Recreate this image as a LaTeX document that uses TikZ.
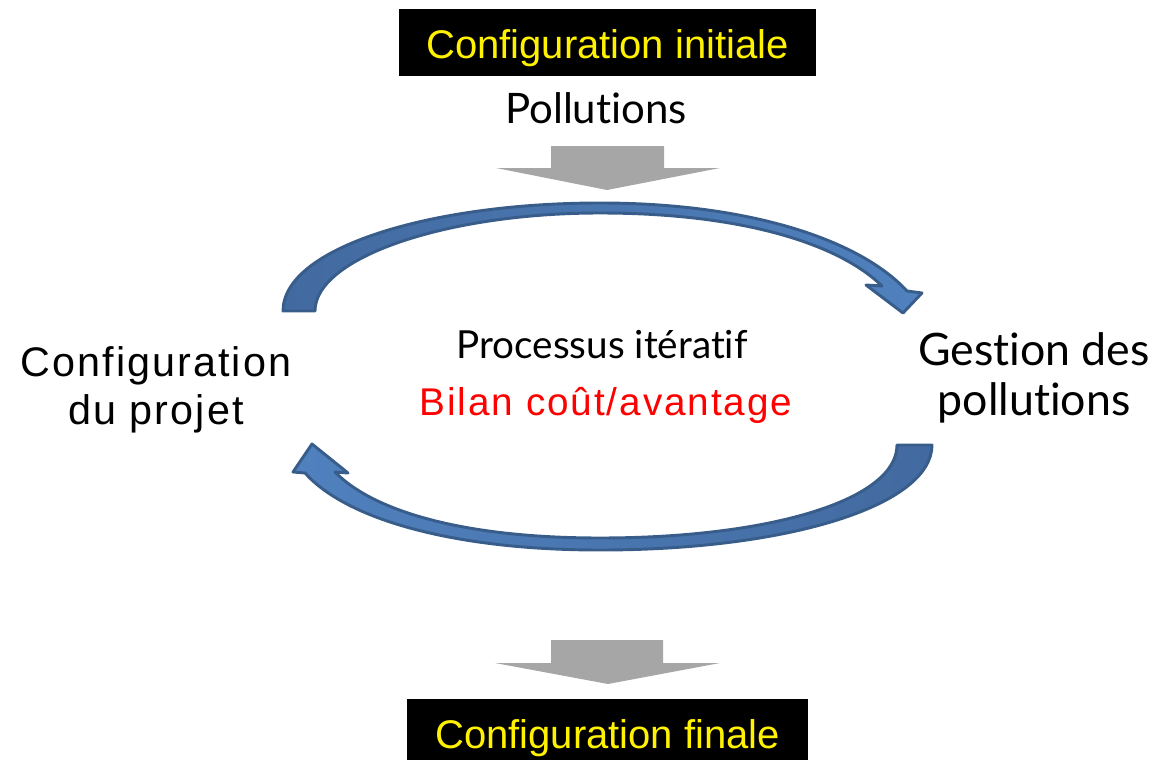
\documentclass[tikz,border=0pt]{standalone}
\usepackage{fontspec}
\setmainfont{Liberation Sans}
\newfontfamily\widefont[LetterSpace=5]{Liberation Sans}
\newfontfamily\lightfont[Ligatures={NoCommon,NoContextual}]{Lato}
\definecolor{loopblue}{RGB}{80,129,190}
\definecolor{loopdark}{RGB}{66,106,160}
\definecolor{loopedge}{RGB}{56,93,138}
\definecolor{passgray}{RGB}{166,166,166}
\tikzstyle{stage} = [fill=black, text=yellow, inner sep=0pt, text height=28pt, text depth=4pt, font=\fontsize{30}{36}\selectfont]
\tikzstyle{label} = [align=center, inner sep=0pt]
\tikzstyle{loop} = [draw=loopedge, line width=2.2pt, line join=round]
\tikzstyle{pass} = [fill=passgray]

\begin{document}
\begin{tikzpicture}[x=0.75pt, y=-0.75pt]
\useasboundingbox (0,0) rectangle (1161,760);

\node (init) [stage, minimum width=312.75pt, minimum height=50.25pt] at (607.5,42.5) {Configuration initiale};
\node (poll) [label, font=\lightfont\fontsize{31.5}{37}\selectfont] at (596,108) {Pollutions};
\node (projet) [label, font=\widefont\fontsize{31}{36}\selectfont] at (156,390) {Configuration\\du projet};
\node (gestion) [label, font=\lightfont\fontsize{33.5}{38}\selectfont] at (1034,378) {Gestion des\\pollutions};
\node (iter) [label, font=\lightfont\fontsize{29}{34}\selectfont] at (602,345) {Processus itératif};
\node (bilan) [label, text=red, font=\widefont\fontsize{29}{34}\selectfont] at (606,405) {Bilan coût/avantage};
\node (final) [stage, minimum width=300.75pt, minimum height=50.25pt] at (607.5,732.5) {Configuration finale};

% gray arrows in and out
\fill [pass] (551,146) -- (664,146) -- (664,168) -- (720,168) -- (607,190) -- (496,168) -- (551,168) -- cycle;
\fill [pass] (551,640) -- (663,640) -- (663,663) -- (720,663) -- (608,684) -- (495,663) -- (551,663) -- cycle;

% loop: projet -> gestion
\draw [loop, left color=loopdark, right color=loopblue] (283,311) .. controls (283,248) and (430,203) .. (600,203)
  .. controls (750,203) and (860,240) .. (907,291) -- (922,293) -- (903,313) -- (866,285) -- (882,286)
  .. controls (838,243) and (740,213) .. (600,213)
  .. controls (445,213) and (315,258) .. (315,311) -- cycle;
% loop: gestion -> projet
\draw [loop, left color=loopblue, right color=loopdark] (932,445) .. controls (932,505) and (790,550) .. (600,550)
  .. controls (450,550) and (345,518) .. (305,473) -- (293,472) -- (312,444) -- (348,473) -- (335,472)
  .. controls (372,510) and (460,538) .. (600,538)
  .. controls (770,538) and (897,500) .. (897,445) -- cycle;

\end{tikzpicture}
\end{document}
